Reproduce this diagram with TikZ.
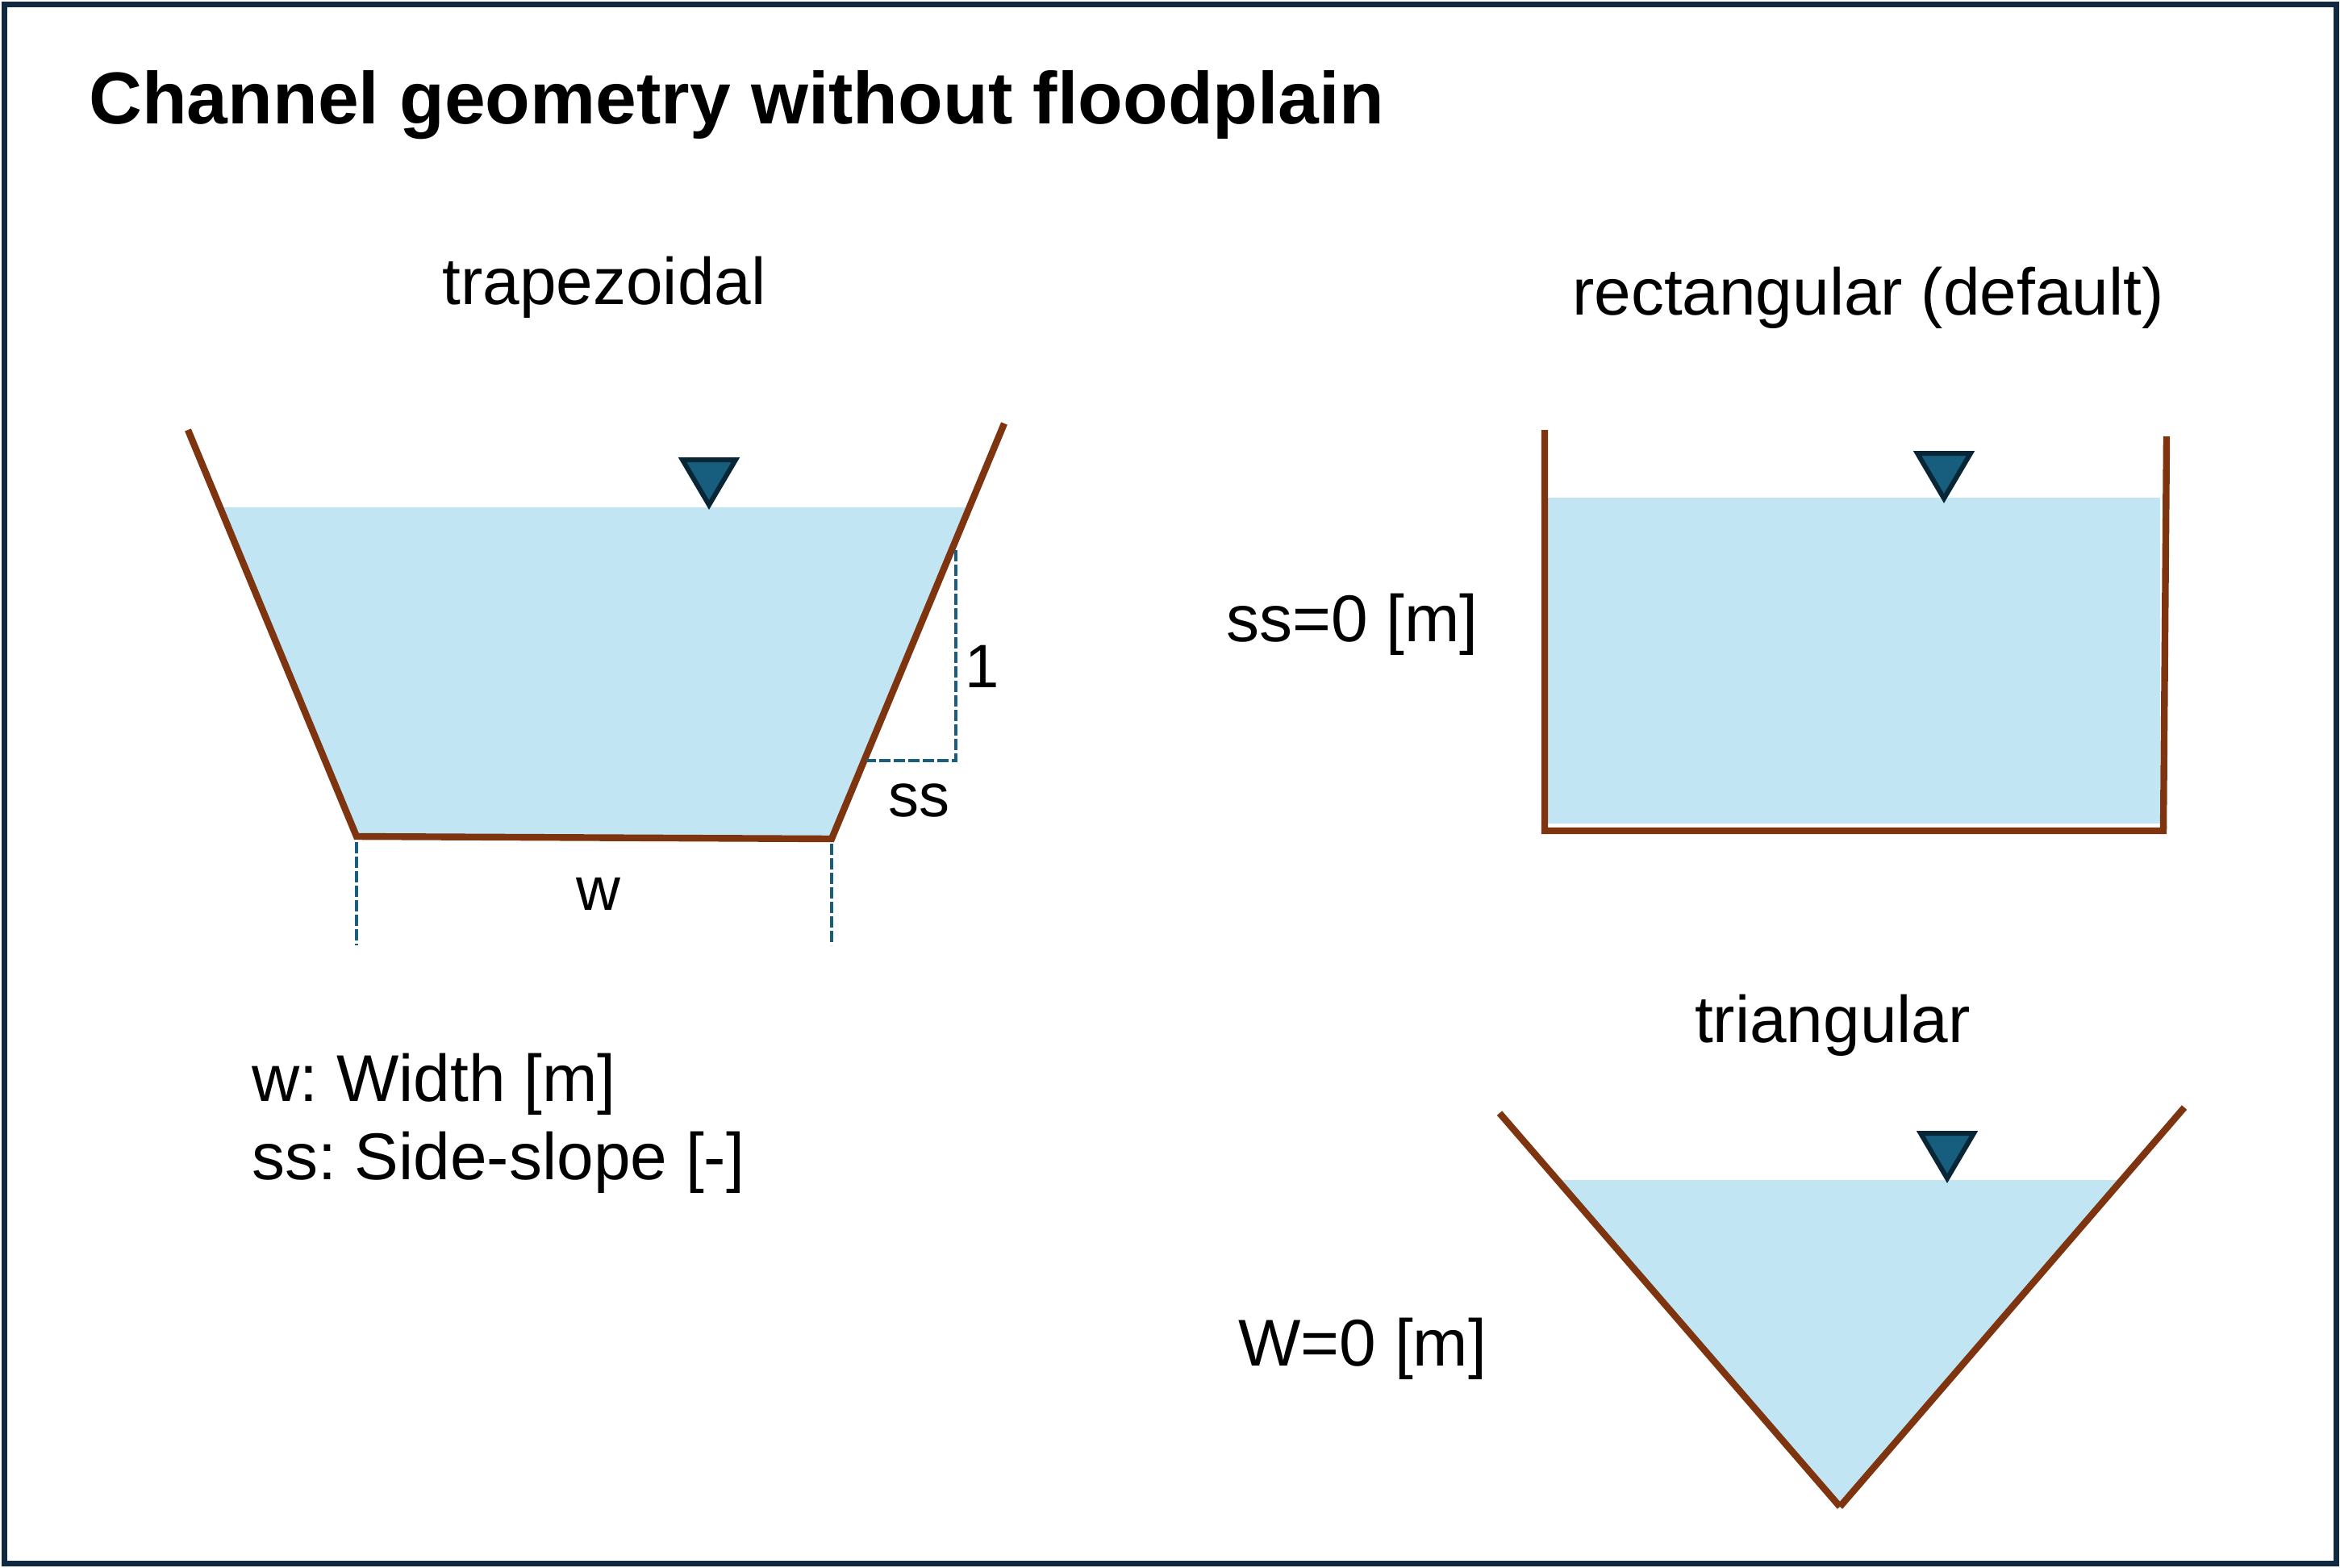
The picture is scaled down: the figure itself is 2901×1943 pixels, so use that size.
\documentclass[tikz,border=0pt]{standalone}
\usepackage{fontspec}
\setmainfont{Liberation Sans}
\frenchspacing
\definecolor{bank}{RGB}{127,52,16}
\definecolor{water}{RGB}{194,229,244}
\definecolor{mfill}{RGB}{23,94,126}
\definecolor{mline}{RGB}{8,38,54}
\definecolor{framecol}{RGB}{18,41,66}
\definecolor{dimcol}{RGB}{26,94,126}
\tikzset{
  bankline/.style={draw=bank, line width=4.2pt},
  waterfill/.style={fill=water, draw=none},
  marker/.style={fill=mfill, draw=mline, line width=3pt, line join=miter},
  dimline/.style={draw=dimcol, line width=2.4pt, dash pattern=on 7pt off 2pt},
  framebox/.style={draw=framecol, line width=3.5pt},
  lbl/.style={inner sep=0pt, font=\fontsize{41}{49}\selectfont},
  slbl/.style={inner sep=0pt, font=\fontsize{38}{45}\selectfont},
  ttl/.style={inner sep=0pt, font=\fontsize{45.6}{55}\selectfont\bfseries},
  wsurf/.pic={\path[marker] (-33,-62) -- (33,-62) -- (0,-6) -- cycle;}
}
\begin{document}
\begin{tikzpicture}[x=0.5pt,y=-0.5pt]
\useasboundingbox (0,0) rectangle (2901,1943);
\draw[framebox] (5,5) rectangle (2896,1938);

% title
\node[ttl, anchor=base west] (title) at (110,153) {Channel geometry without floodplain};

% ---------- trapezoidal ----------
\node[lbl, anchor=base] (ttrap) at (749,377) {trapezoidal};
\coordinate (tlt) at (233,533);
\coordinate (tlb) at (442,1037);
\coordinate (trb) at (1031,1040);
\coordinate (trt) at (1245,525);
\coordinate (twl) at (273,629);
\coordinate (twr) at (1201,629);
\fill[waterfill] (twl) -- (twr) -- (trb) -- (tlb) -- cycle;
\draw[bankline] (tlt) -- (tlb) -- (trb) -- (trt);
\pic (m1) at (879,632) {wsurf};
% slope dimension
\coordinate (sv1) at (1185,682);
\coordinate (sv2) at (1185,943);
\coordinate (sh1) at (1074,943);
\draw[dimline] (sv1) -- (sv2) -- (sh1);
\node[slbl, anchor=base] (lone) at (1218,852) {1};
\node[slbl, anchor=base] (lss) at (1139,1012) {ss};
% width dimension
\coordinate (wl1) at (442,1044);
\coordinate (wl2) at (442,1172);
\coordinate (wr1) at (1031,1046);
\coordinate (wr2) at (1031,1172);
\draw[dimline] (wl1) -- (wl2);
\draw[dimline] (wr1) -- (wr2);
\node[slbl, anchor=base] (lw) at (742,1128) {w};
% legend
\node[lbl, anchor=base west] (leg1) at (312,1365) {w: Width [m]};
\node[lbl, anchor=base west] (leg2) at (312,1462) {ss: Side-slope [-]};

% ---------- rectangular ----------
\node[lbl, anchor=base] (trect) at (2316,390) {rectangular (default)};
\node[lbl, anchor=base west] (lss0) at (1520,795) {ss=0 [m]};
\coordinate (rlt) at (1915,533);
\coordinate (rlb) at (1915,1030);
\coordinate (rrb) at (2682,1030);
\coordinate (rrt) at (2686,541);
\fill[waterfill] (1919,617) rectangle (2678,1021);
\draw[bankline] (rlt) -- (rlb) -- (rrb) -- (rrt);
\pic (m2) at (2410,624) {wsurf};

% ---------- triangular ----------
\node[lbl, anchor=base] (ttri) at (2272,1292) {triangular};
\node[lbl, anchor=base west] (lw0) at (1535,1693) {W=0 [m]};
\coordinate (glt) at (1859,1380);
\coordinate (gb) at (2281,1868);
\coordinate (grt) at (2708,1373);
\coordinate (gwl) at (1931,1463);
\coordinate (gwr) at (2632,1463);
\fill[waterfill] (gwl) -- (gwr) -- (gb) -- cycle;
\draw[bankline] (glt) -- (gb);
\draw[bankline] (grt) -- (gb);
\pic (m3) at (2414,1467) {wsurf};
\end{tikzpicture}
\end{document}
